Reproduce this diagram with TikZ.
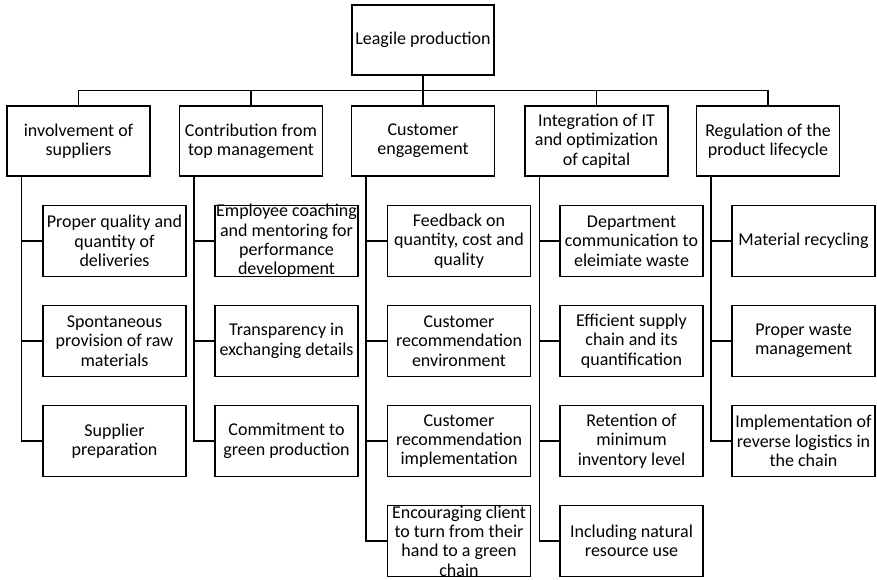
\documentclass[tikz,border=0pt]{standalone}
\usepackage{fontspec}
\setmainfont{Carlito}
\usepackage{tikz}
\usetikzlibrary{positioning}

\tikzset{
  btext/.style={align=center, inner sep=0pt},
  topbox/.style={draw, line width=1.1pt, minimum width=142pt, minimum height=70pt, inner sep=0pt},
  mainbox/.style={draw, line width=1.1pt, align=center, minimum width=143pt, minimum height=70pt, inner sep=1pt},
  cbox/.style={draw, line width=1.1pt, align=center, minimum width=143pt, minimum height=71pt, inner sep=1pt},
  link/.style={line width=1.1pt}
}

\begin{document}
\begin{tikzpicture}[x=1pt, y=-1pt, font=\fontsize{18}{19.3}\selectfont]
        \useasboundingbox (0, 0) rectangle (877, 580);
        % Root
        \node [topbox] (root) at (423, 40) {Leagile production};
        % Main factors
        \node [mainbox] (a1) at (78.5, 141) {involvement of\\suppliers};
        \node [mainbox] (a2) at (251, 141) {Contribution from\\top management};
        \node [mainbox] (a3) at (423, 141) {Customer\\engagement};
        \node [mainbox] (a4) at (596.5, 141) {Integration of IT\\and optimization\\of capital};
        \node [mainbox] (a5) at (768, 141) {Regulation of the\\product lifecycle};
        % Root to main factors
        \foreach \f in {a1, a2, a3, a4, a5}
            \draw [link] (root.south) -- ++(0, 15) -| (\f.north);
        % Suppliers
        \node [cbox] (c11) at (114.5, 241) {Proper quality and\\quantity of\\deliveries};
        \node [cbox] (c12) at (114.5, 341) {Spontaneous\\provision of raw\\materials};
        \node [cbox] (c13) at (114.5, 441) {Supplier\\preparation};
        % Top management
        \node [cbox, label={[btext]center:{Employee coaching\\and mentoring for\\performance\\development}}] (c21) at (286.5, 241) {};
        \node [cbox] (c22) at (286.5, 341) {Transparency in\\exchanging details};
        \node [cbox] (c23) at (286.5, 441) {Commitment to\\green production};
        % Customer
        \node [cbox] (c31) at (459, 241) {Feedback on\\quantity, cost and\\quality};
        \node [cbox] (c32) at (459, 341) {Customer\\recommendation\\environment};
        \node [cbox] (c33) at (459, 441) {Customer\\recommendation\\implementation};
        \node [cbox, label={[btext]center:{Encouraging client\\to turn from their\\hand to a green\\chain}}] (c34) at (459, 541) {};
        % IT and capital
        \node [cbox] (c41) at (631.5, 241) {Department\\communication to\\eleimiate waste};
        \node [cbox] (c42) at (631.5, 341) {Efficient supply\\chain and its\\quantification};
        \node [cbox] (c43) at (631.5, 441) {Retention of\\minimum\\inventory level};
        \node [cbox] (c44) at (631.5, 541) {Including natural\\resource use};
        % Product lifecycle
        \node [cbox] (c51) at (803.5, 241) {Material recycling};
        \node [cbox] (c52) at (803.5, 341) {Proper waste\\management};
        \node [cbox] (c53) at (803.5, 441) {Implementation of\\reverse logistics in\\the chain};
        % Trunks
        \foreach \f/\kids in {a1/{c11,c12,c13}, a2/{c21,c22,c23}, a3/{c31,c32,c33,c34}, a4/{c41,c42,c43,c44}, a5/{c51,c52,c53}}
            \foreach \k in \kids
                \draw [link] (\f.south west) ++(15, 0) |- (\k.west);
    \end{tikzpicture}
\end{document}
